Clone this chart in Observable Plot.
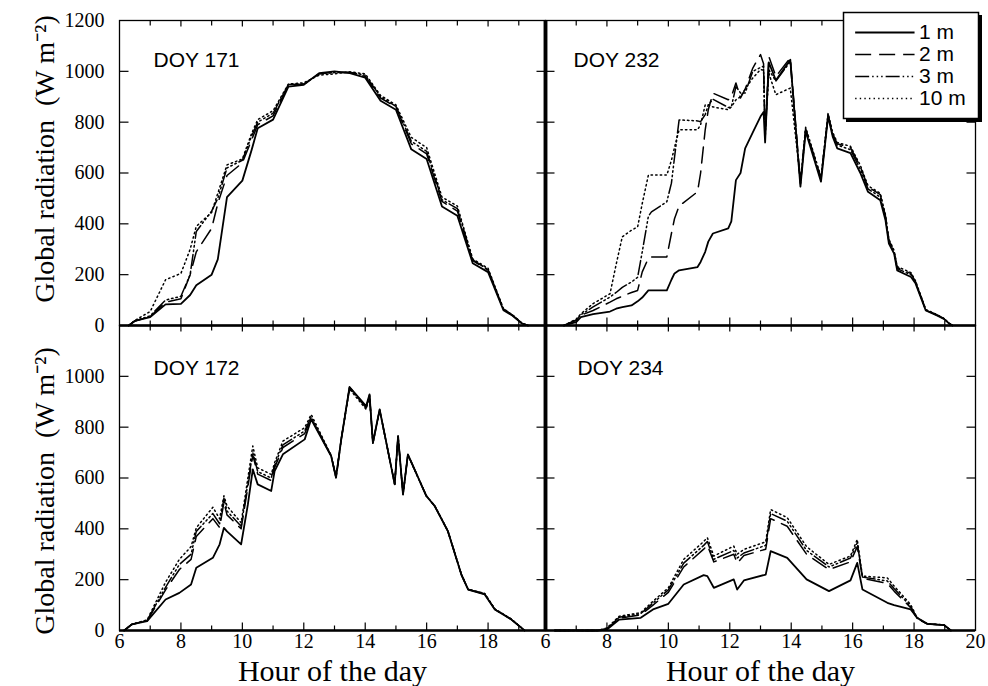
<!DOCTYPE html>
<html>
<head>
<meta charset="utf-8">
<script src="https://cdn.jsdelivr.net/npm/d3@7"></script>
<script src="https://cdn.jsdelivr.net/npm/@observablehq/plot@0.6"></script>
<style>
  html, body { margin: 0; padding: 0; background: #fff; }
  #chart { position: relative; width: 988px; height: 686px; background: #fff; }
  #chart svg { position: absolute; left: 0; top: 0; }
</style>
</head>
<body>
<div id="chart"></div>
<script>
// ---- Series and tick labels ----
const seriesNames = ["1 m", "2 m", "3 m", "10 m"];

// DOY 171
const hours171 = [6.3, 6.5, 7.0, 7.5, 8.0, 8.3, 8.5, 9.0, 9.2, 9.5, 10.0, 10.3, 10.5, 11.0, 11.5, 12.0, 12.5, 13.0, 13.5, 14.0, 14.5, 15.0, 15.5, 16.0, 16.5, 17.0, 17.5, 18.0, 18.5, 18.8, 19.1, 19.3];
const doy171m1  = [0, 18, 33, 83, 85, 120, 158, 200, 260, 505, 570, 690, 776, 810, 940, 947, 993, 1000, 993, 975, 884, 849, 693, 655, 468, 432, 245, 210, 60, 38, 8, 0];
const doy171m2  = [0, 18, 35, 92, 105, 200, 290, 382, 480, 590, 640, 730, 790, 825, 945, 950, 990, 997, 995, 980, 895, 860, 715, 675, 488, 450, 255, 218, 63, 40, 9, 0];
const doy171m3  = [0, 18, 38, 100, 115, 200, 370, 450, 500, 620, 650, 745, 800, 835, 948, 950, 990, 995, 996, 985, 900, 862, 725, 685, 495, 460, 258, 220, 65, 40, 9, 0];
const doy171m10 = [0, 20, 55, 180, 205, 300, 390, 445, 520, 632, 655, 755, 810, 845, 950, 955, 985, 990, 998, 990, 905, 868, 740, 700, 505, 470, 262, 225, 66, 41, 10, 0];

// DOY 232
const hours232 = [6.6, 7.0, 7.15, 7.55, 8.1, 8.3, 8.5, 8.8, 9.0, 9.15, 9.35, 9.45, 9.95, 10.1, 10.2, 10.35, 10.95, 11.05, 11.2, 11.3, 11.45, 11.95, 12.05, 12.2, 12.35, 12.5, 12.75, 13.0, 13.1, 13.15, 13.27, 13.5, 13.97, 14.3, 14.47, 14.97, 15.2, 15.35, 15.5, 15.93, 16.25, 16.5, 16.9, 17.07, 17.18, 17.35, 17.45, 17.9, 18.05, 18.38, 18.76, 18.97, 19.15, 19.25];
const doy232m1  = [0, 13, 33, 45, 55, 66, 72, 79, 95, 110, 138, 138, 138, 180, 205, 217, 230, 250, 290, 330, 362, 382, 410, 572, 600, 697, 760, 822, 840, 720, 1035, 965, 1046, 546, 763, 566, 822, 743, 697, 678, 600, 526, 493, 414, 322, 283, 217, 191, 165, 59, 39, 26, 7, 0];
const doy232m2  = [0, 20, 40, 59, 92, 105, 115, 130, 138, 211, 265, 270, 270, 362, 420, 470, 526, 600, 770, 849, 914, 888, 900, 954, 895, 930, 1013, 1066, 1030, 740, 1059, 980, 1053, 560, 775, 580, 830, 755, 715, 700, 625, 545, 515, 430, 335, 292, 228, 204, 172, 62, 41, 27, 8, 0];
const doy232m3  = [0, 22, 42, 73, 112, 130, 150, 171, 190, 290, 430, 447, 487, 560, 661, 809, 805, 802, 830, 868, 890, 858, 860, 940, 915, 915, 1000, 1015, 1020, 735, 1007, 961, 1039, 555, 770, 575, 826, 750, 710, 692, 615, 538, 505, 422, 330, 288, 224, 199, 169, 61, 40, 27, 8, 0];
const doy232m10 = [0, 25, 46, 86, 125, 240, 349, 375, 388, 480, 592, 592, 592, 650, 700, 770, 770, 790, 868, 868, 860, 849, 860, 888, 900, 930, 974, 1007, 1005, 760, 993, 908, 934, 570, 780, 585, 835, 760, 720, 705, 630, 550, 520, 435, 340, 295, 232, 208, 175, 63, 42, 28, 8, 0];

// DOY 172
const hours172 = [6.15, 6.4, 6.9, 7.5, 7.95, 8.33, 8.5, 9.04, 9.26, 9.4, 9.5, 9.96, 10.18, 10.34, 10.5, 10.94, 11.05, 11.32, 12.03, 12.24, 12.89, 13.05, 13.22, 13.49, 14.03, 14.14, 14.25, 14.47, 14.96, 15.07, 15.23, 15.39, 15.99, 16.26, 16.69, 17.13, 17.35, 17.89, 18.22, 18.76, 19.19];
const doy172m1  = [0, 24, 37, 122, 148, 181, 247, 286, 339, 404, 390, 339, 496, 634, 575, 549, 627, 693, 752, 831, 686, 601, 752, 958, 883, 929, 739, 870, 575, 765, 535, 693, 529, 490, 391, 220, 161, 142, 83, 43, 0];
const doy172m2  = [0, 24, 38, 160, 240, 280, 370, 440, 405, 505, 455, 400, 565, 690, 615, 590, 640, 720, 775, 835, 687, 602, 752, 957, 880, 927, 738, 869, 575, 765, 535, 693, 529, 490, 391, 220, 161, 143, 83, 43, 0];
const doy172m3  = [0, 24, 40, 170, 260, 300, 390, 460, 420, 520, 470, 410, 580, 700, 625, 600, 650, 730, 785, 840, 688, 603, 753, 955, 876, 925, 737, 868, 576, 764, 536, 692, 530, 491, 392, 221, 162, 144, 84, 44, 0];
const doy172m10 = [0, 24, 42, 190, 280, 330, 404, 485, 440, 530, 490, 424, 600, 726, 640, 614, 660, 745, 798, 850, 690, 605, 755, 950, 870, 920, 735, 865, 578, 762, 537, 690, 530, 492, 393, 222, 163, 146, 85, 45, 0];

// DOY 234
const hours234 = [6.3, 7.7, 8.0, 8.4, 9.1, 9.5, 10.0, 10.5, 11.15, 11.27, 11.48, 12.13, 12.24, 12.46, 13.17, 13.33, 13.87, 14.5, 15.23, 15.93, 16.15, 16.32, 17.13, 17.35, 17.89, 18.1, 18.43, 18.98, 19.2];
const doy234m1  = [0, 0, 4, 43, 50, 83, 105, 181, 218, 214, 168, 201, 161, 197, 220, 312, 286, 201, 155, 197, 266, 161, 109, 100, 83, 50, 26, 21, 0];
const doy234m2  = [0, 0, 6, 48, 62, 100, 150, 250, 320, 335, 270, 300, 265, 295, 320, 440, 410, 300, 240, 270, 330, 205, 185, 155, 90, 46, 26, 21, 0];
const doy234m3  = [0, 0, 8, 52, 66, 108, 160, 265, 335, 350, 280, 315, 285, 305, 335, 460, 430, 315, 250, 285, 345, 210, 195, 165, 95, 48, 26, 21, 0];
const doy234m10 = [0, 0, 10, 56, 70, 115, 168, 280, 350, 365, 293, 332, 300, 319, 349, 476, 444, 330, 260, 293, 358, 214, 207, 175, 102, 50, 27, 22, 0];

// Axis ticks and labels
const xLabelsLeft = [6, 8, 10, 12, 14, 16, 18];
const xLabelsRight = [6, 8, 10, 12, 14, 16, 18, 20];
const yLabelsTop = [0, 200, 400, 600, 800, 1000, 1200];
const yLabelsBottom = [0, 200, 400, 600, 800, 1000];
const hourTickMarks = [7, 8, 9, 10, 11, 12, 13, 14, 15, 16, 17, 18, 19];
const radTickMarks = [200, 400, 600, 800, 1000];
const xTitle = "Hour of the day";
const yTitle = "Global radiation  (W m\u207B\u00B2)";

// ---- Layout ----
const W = 988, H = 686;
const frameLeft = 119, frameMid = 545, frameRight = 975;
const frameTop = 20, frameMidY = 325, frameBottom = 630;
const pxPerHour = (frameRight - frameMid) / 14;

const dashOf = { "1 m": null, "2 m": "16,8", "3 m": "14,3,1.5,3,1.5,3,1.5,3", "10 m": "1.4,3.2" };
const serif = "'Liberation Serif', 'Times New Roman', serif";
const sans = "'Liberation Sans', Arial, Helvetica, sans-serif";

// Short inward tick glyph for dot marks
const tickGlyph = (dx, dy) => ({ draw(ctx) { ctx.moveTo(0, 0); ctx.lineTo(dx, dy); } });

function panel({ title, hours, series, col, row, titleDx, titleDy, yTitleDy }) {
  const left = col === 0 ? frameLeft : frameMid;
  const right = col === 0 ? frameMid : frameRight;
  const top = row === 0 ? frameTop : frameMidY;
  const bottom = row === 0 ? frameMidY : frameBottom;
  const xMax = col === 0 ? 6 + (right - left) / pxPerHour : 20;

  const rows = seriesNames.map((name, i) => hours.map((h, j) => ({ series: name, hour: h, value: series[i][j] })));
  const major = hourTickMarks.filter(h => h % 2 === 0);
  const minor = hourTickMarks.filter(h => h % 2 === 1);
  const tickStyle = { stroke: "black", fill: "none", strokeWidth: 1.2 };

  const marks = [
    Plot.frame({ stroke: "black", strokeWidth: 1.3 }),
    // drawn so the solid 1 m curve ends up on top
    ...[3, 2, 1, 0].map(i => Plot.line(rows[i], {
      x: "hour", y: "value", stroke: "black",
      strokeWidth: i === 0 ? 1.8 : 1.5,
      strokeDasharray: dashOf[seriesNames[i]]
    })),
    // inward ticks on all four sides
    Plot.dot(major, { x: d => d, y: 0, symbol: tickGlyph(0, -8), ...tickStyle }),
    Plot.dot(minor, { x: d => d, y: 0, symbol: tickGlyph(0, -5), ...tickStyle }),
    Plot.dot(major, { x: d => d, y: 1200, symbol: tickGlyph(0, 6), ...tickStyle }),
    Plot.dot(minor, { x: d => d, y: 1200, symbol: tickGlyph(0, 5), ...tickStyle }),
    Plot.dot(radTickMarks, { x: 6, y: d => d, symbol: tickGlyph(9, 0), ...tickStyle }),
    Plot.dot(radTickMarks, { x: xMax, y: d => d, symbol: tickGlyph(-9, 0), ...tickStyle }),
    // heavy base line and central divider
    Plot.ruleY([0], { stroke: "black", strokeWidth: 2.4 }),
    Plot.text([title], {
      text: d => d, frameAnchor: "top-left", dx: titleDx, dy: titleDy,
      textAnchor: "start", lineAnchor: "middle", fontFamily: sans, fontSize: 21, fill: "black"
    })
  ];
  if (col === 0) {
    marks.push(Plot.ruleX([xMax], { stroke: "black", strokeWidth: 3.5 }));
    marks.push(Plot.text([yTitle], {
      text: d => d, frameAnchor: "left", rotate: -90, dx: -74, dy: yTitleDy,
      textAnchor: "middle", lineAnchor: "middle",
      fontFamily: serif, fontSize: 28, fill: "black"
    }));
  } else {
    marks.push(Plot.ruleX([6], { stroke: "black", strokeWidth: 3.5 }));
  }
  if (row === 1) {
    marks.push(Plot.text([xTitle], {
      text: d => d, frameAnchor: "bottom", dy: 50,
      textAnchor: "middle", lineAnchor: "bottom",
      fontFamily: serif, fontSize: 30, fill: "black"
    }));
  }

  return Plot.plot({
    width: W, height: H,
    marginLeft: left, marginRight: W - right,
    marginTop: top, marginBottom: H - bottom,
    style: { background: "transparent", fontFamily: serif, fontSize: "20px", color: "black" },
    x: {
      domain: [6, xMax],
      axis: row === 1 ? "bottom" : null,
      ticks: col === 0 ? xLabelsLeft : xLabelsRight,
      tickFormat: d3.format("d"), tickSize: 0, tickPadding: 3, label: null
    },
    y: {
      domain: [0, 1200],
      axis: col === 0 ? "left" : null,
      ticks: row === 0 ? yLabelsTop : yLabelsBottom,
      tickFormat: d3.format("d"), tickSize: 0, tickPadding: 15, label: null
    },
    marks
  });
}

function legend() {
  const boxLeft = 843, boxRight = 978, boxTop = 12, boxBottom = 118;
  return Plot.plot({
    width: W, height: H,
    marginLeft: boxLeft, marginRight: W - boxRight,
    marginTop: boxTop, marginBottom: H - boxBottom,
    style: { background: "transparent", fontFamily: sans, fontSize: "21px", color: "black" },
    x: { domain: [0, 1], axis: null },
    y: { type: "point", domain: seriesNames, padding: 0.9, axis: null },
    marks: [
      Plot.frame({ fill: "black", stroke: "black", dx: 3, dy: 3 }),
      Plot.frame({ fill: "white", stroke: "black", strokeWidth: 1.5 }),
      ...seriesNames.map(name => Plot.ruleY([name], {
        y: d => d, x1: 0.09, x2: 0.53, stroke: "black",
        strokeWidth: name === "1 m" ? 1.8 : 1.5, strokeDasharray: dashOf[name]
      })),
      Plot.text(seriesNames, {
        text: d => d, x: 0.56, y: d => d, textAnchor: "start",
        fontFamily: sans, fontSize: 21, fill: "black"
      })
    ]
  });
}

const chart = document.getElementById("chart");
chart.append(
  panel({ title: "DOY 171", hours: hours171, series: [doy171m1, doy171m2, doy171m3, doy171m10], col: 0, row: 0, titleDx: 34, titleDy: 39.5, yTitleDy: -14 }),
  panel({ title: "DOY 232", hours: hours232, series: [doy232m1, doy232m2, doy232m3, doy232m10], col: 1, row: 0, titleDx: 28, titleDy: 39.5 }),
  panel({ title: "DOY 172", hours: hours172, series: [doy172m1, doy172m2, doy172m3, doy172m10], col: 0, row: 1, titleDx: 34, titleDy: 43, yTitleDy: 13 }),
  panel({ title: "DOY 234", hours: hours234, series: [doy234m1, doy234m2, doy234m3, doy234m10], col: 1, row: 1, titleDx: 32, titleDy: 43 }),
  legend()
);
</script>
</body>
</html>
